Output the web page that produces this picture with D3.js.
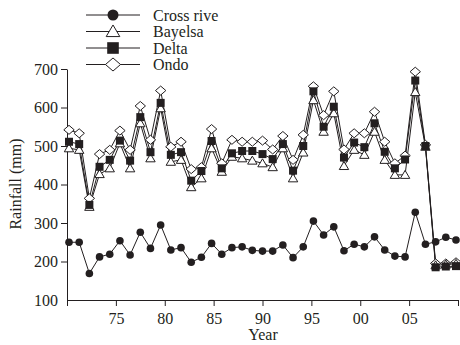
<!DOCTYPE html>
<html>
<head>
<meta charset="utf-8">
<script src="https://cdn.jsdelivr.net/npm/d3@7/dist/d3.min.js"></script>
<style>
  body { margin: 0; background: #fff; }
  svg text { font-family: "Liberation Serif", "Times New Roman", serif; fill: #231f20; }
</style>
</head>
<body>
<svg id="chart" width="460" height="345"></svg>
<script>
// data
const years = [1970, 1971, 1972, 1973, 1974, 1975, 1976, 1977, 1978, 1979,
  1980, 1981, 1982, 1983, 1984, 1985, 1986, 1987, 1988, 1989,
  1990, 1991, 1992, 1993, 1994, 1995, 1996, 1997, 1998, 1999,
  2000, 2001, 2002, 2003, 2004, 2005, 2006, 2007, 2008]

const crossRiver = [250, 250, 169, 212, 219, 254, 217, 276, 234, 295,
  230, 236, 198, 211, 247, 219, 236, 238, 229, 227,
  227, 243, 210, 238, 305, 269, 290, 228, 245, 238,
  264, 230, 214, 212, 328, 245, 251, 263, 256]

const bayelsa = [494, 490, 342, 427, 442, 507, 442, 559, 468, 598,
  459, 464, 393, 416, 494, 433, 472, 468, 462, 455,
  445, 494, 416, 483, 619, 537, 585, 448, 490, 477,
  537, 464, 425, 425, 640, 498, 190, 192, 194]

const delta = [511, 505, 347, 446, 464, 514, 462, 575, 484, 612,
  477, 484, 410, 435, 513, 442, 481, 487, 487, 479,
  466, 505, 436, 500, 642, 550, 602, 470, 509, 497,
  559, 485, 442, 465, 670, 500, 185, 187, 188]

const ondo = [542, 533, 364, 479, 490, 540, 490, 604, 516, 644,
  498, 511, 440, 445, 544, 455, 516, 511, 511, 514,
  491, 526, 464, 529, 655, 580, 642, 491, 533, 533,
  589, 511, 455, 475, 693, 503, 195, 195, 198]

const yTicks = [100, 200, 300, 400, 500, 600, 700]
const xTicks = [1970, 1975, 1980, 1985, 1990, 1995, 2000, 2005, 2010]
const xTickLabels = ['', '75', '80', '85', '90', '95', '00', '05', '']

const seriesNames = ['Cross rive', 'Bayelsa', 'Delta', 'Ondo']

const svg = d3.select('#chart')
const fontSize = 16
const ink = '#231f20'

// axis scale and the scale the points sit on (points run a bit wider than the ticks)
const xAxisScale = d3.scaleLinear().domain([1970, 2010]).range([67, 458])
const x = d3.scaleLinear().domain([1970, 2008]).range([69, 456])
const y = d3.scaleLinear().domain([100, 700]).range([300, 69])

// 坐标轴
const gx = svg.append('g')
  .attr('transform', 'translate(0,300)')
  .call(d3.axisBottom(xAxisScale).tickValues(xTicks)
    .tickFormat((d, i) => xTickLabels[i]).tickSize(6).tickSizeOuter(0))
gx.select('.domain').attr('stroke', ink)
gx.selectAll('.tick line').attr('stroke', ink)
gx.selectAll('.tick text').attr('font-size', fontSize).attr('y', 13)

const gy = svg.append('g')
  .attr('transform', 'translate(67,0)')
  .call(d3.axisLeft(y).tickValues(yTicks).tickSize(6).tickSizeOuter(0))
gy.select('.domain').attr('stroke', ink)
gy.selectAll('.tick line').attr('stroke', ink)
gy.selectAll('.tick text').attr('font-size', fontSize).attr('x', -9)
gy.selectAll('.tick').filter(d => d === 100).select('line').remove()

svg.append('text')
  .attr('x', 263).attr('y', 340)
  .attr('text-anchor', 'middle')
  .attr('font-size', fontSize)
  .text('Year')

svg.append('text')
  .attr('transform', 'translate(21,184) rotate(-90)')
  .attr('text-anchor', 'middle')
  .attr('font-size', fontSize)
  .text('Rainfall (mm)')

// 标记形状, s = 放大倍数
const markers = {
  'Cross rive': (g, s) => g.append('circle').attr('r', 3.8 * s).attr('fill', ink),
  'Bayelsa': (g, s) => g.append('path')
    .attr('d', `M0,${-4.5 * s}L${4.7 * s},${3.5 * s}L${-4.7 * s},${3.5 * s}Z`)
    .attr('fill', '#fff').attr('stroke', ink).attr('stroke-width', 1),
  'Delta': (g, s) => g.append('rect').attr('x', -4 * s).attr('y', -4 * s)
    .attr('width', 8 * s).attr('height', 8 * s).attr('fill', ink),
  'Ondo': (g, s) => g.append('path')
    .attr('d', `M0,${-4.5 * s}L${5.2 * s},0L0,${4.5 * s}L${-5.2 * s},0Z`)
    .attr('fill', '#fff').attr('stroke', ink).attr('stroke-width', 1)
}

const seriesData = {
  'Cross rive': crossRiver,
  'Bayelsa': bayelsa,
  'Delta': delta,
  'Ondo': ondo
}

const line = d3.line()
  .x((d, i) => x(years[i]))
  .y(d => y(d))

// 先画上层三组再画 Cross rive
const drawOrder = ['Ondo', 'Bayelsa', 'Delta', 'Cross rive']
drawOrder.forEach(name => {
  svg.append('path')
    .datum(seriesData[name])
    .attr('d', line)
    .attr('fill', 'none')
    .attr('stroke', ink)
    .attr('stroke-width', 1)
})
drawOrder.forEach(name => {
  svg.append('g')
    .selectAll('g')
    .data(seriesData[name])
    .enter()
    .append('g')
    .attr('transform', (d, i) => `translate(${x(years[i])},${y(d)})`)
    .each(function () { markers[name](d3.select(this), 1) })
})

// 图例
const legend = svg.append('g')
seriesNames.forEach((name, i) => {
  const row = legend.append('g').attr('transform', `translate(0,${15 + i * 16.5})`)
  row.append('line')
    .attr('x1', 86).attr('x2', 140)
    .attr('stroke', ink).attr('stroke-width', 1)
  markers[name](row.append('g').attr('transform', 'translate(113,0)'), 1.45)
  row.append('text')
    .attr('x', 153).attr('y', 5.5)
    .attr('font-size', fontSize)
    .text(name)
})
</script>
</body>
</html>
